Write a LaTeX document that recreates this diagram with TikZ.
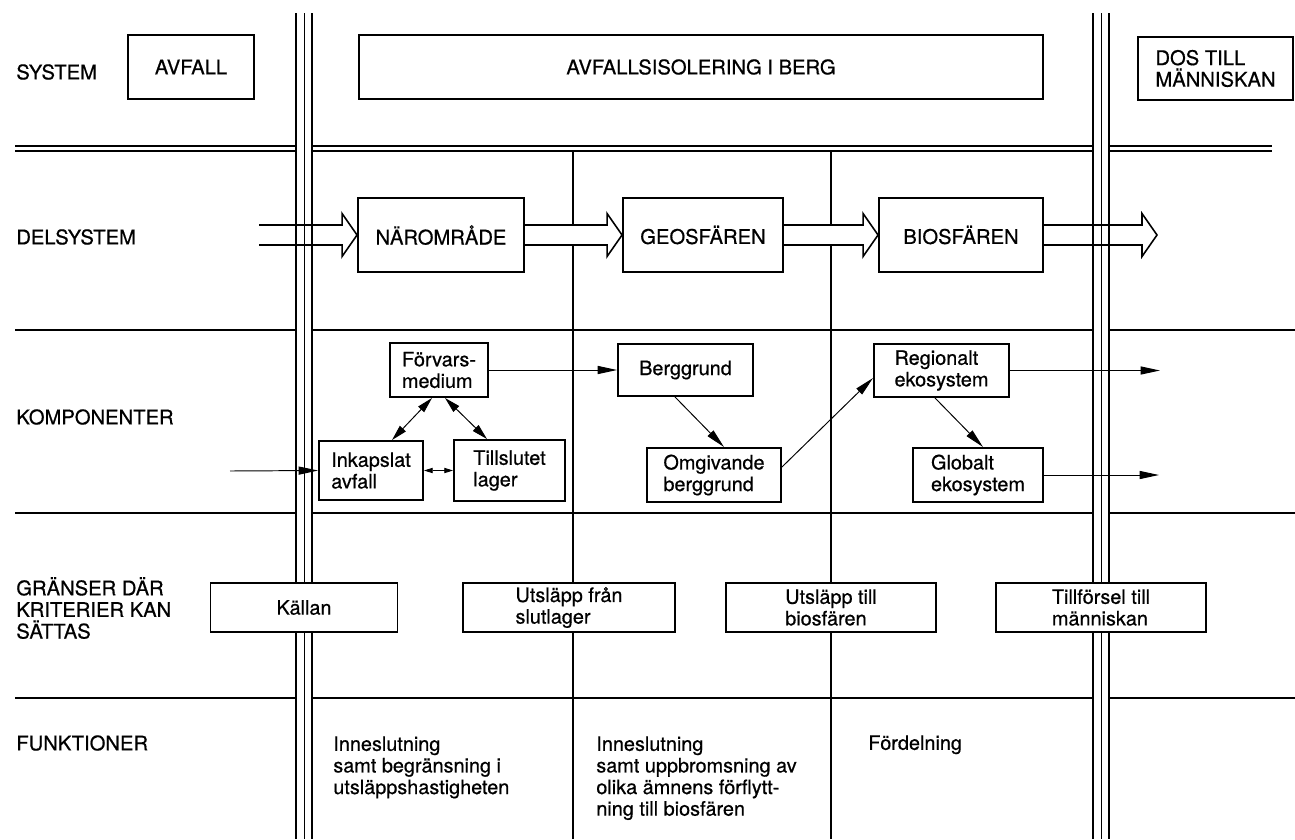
\documentclass[tikz,border=0pt]{standalone}
\usepackage{fontspec}
\setmainfont[FakeBold=0.6]{TeX Gyre Heros}
\usetikzlibrary{arrows.meta, positioning, calc, backgrounds}

\begin{document}
\begin{tikzpicture}[
    x=0.02cm, y=-0.02cm,
    head/.style={anchor=west, inner sep=0pt, align=left,
                 font=\fontsize{11.5}{12.3}\selectfont},
    sysbox/.style={draw, fill=white, line width=1.1pt, inner sep=0pt, align=left,
                   font=\fontsize{11.5}{12.3}\selectfont},
    comp/.style={draw, fill=white, line width=1.1pt, inner sep=0pt, align=left,
                 font=\fontsize{11.3}{12.3}\selectfont},
    txt/.style={anchor=north west, inner sep=0pt, align=left,
                font=\fontsize{11.3}{12.3}\selectfont},
    grid/.style={line width=0.65pt},
    road/.style={line width=0.65pt},
    hollow/.style={fill=white, line width=0.9pt, line join=miter},
    arr/.style={-{Triangle[length=11pt, width=4.6pt]}, line width=0.55pt},
    darr/.style={{Triangle[length=9pt, width=4.6pt]}-{Triangle[length=9pt, width=4.6pt]}, line width=0.55pt},
    sdarr/.style={{Triangle[length=5pt, width=3pt]}-{Triangle[length=5pt, width=3pt]}, line width=0.55pt}
]
\useasboundingbox (0,0) rectangle (1295,839);

% ============================================================
% Row labels
% ============================================================
\node[head] (lsys)  at (16,72)  {SYSTEM};
\node[head] (ldel)  at (16,237) {DELSYSTEM};
\node[head] (lkomp) at (16,417) {KOMPONENTER};
\node[head] (lgr)   at (16,608) {GRÄNSER DÄR\\KRITERIER KAN\\SÄTTAS};
\node[head] (lfun)  at (16,743) {FUNKTIONER};

% ============================================================
% System
% ============================================================
\node[sysbox, minimum width=2.52cm, minimum height=1.28cm] (avf) at (191,67) {AVFALL};
\node[sysbox, minimum width=13.68cm, minimum height=1.28cm] (iso) at (701,67) {AVFALLSISOLERING I BERG};
\node[sysbox, minimum width=3.1cm, minimum height=1.26cm] (dos) at (1215.5,68.5) {DOS TILL\\MÄNNISKAN};

% ============================================================
% Delsystem
% ============================================================
\node[sysbox, minimum width=3.32cm, minimum height=1.48cm] (naer) at (441,235) {NÄROMRÅDE};
\node[sysbox, minimum width=3.2cm,  minimum height=1.48cm] (geo)  at (703,235) {GEOSFÄREN};
\node[sysbox, minimum width=3.28cm, minimum height=1.48cm] (bio)  at (961,235) {BIOSFÄREN};
\coordinate (delin)  at (259,235);
\coordinate (delout) at (1157,235);

% ============================================================
% Komponenter
% ============================================================
\node[comp, minimum width=1.96cm, minimum height=1.08cm] (forv)  at (439,370)    {Förvars-\\medium};
\node[comp, minimum width=2.08cm, minimum height=1.18cm] (inkap) at (371,470.5)  {Inkapslat\\avfall};
\node[comp, minimum width=2.22cm, minimum height=1.22cm] (tills) at (509.5,470.5) {Tillslutet\\lager};
\node[comp, minimum width=2.7cm,  minimum height=1.04cm] (berg)  at (685.5,370)  {Berggrund};
\node[comp, minimum width=2.68cm, minimum height=1.08cm] (omg)   at (714,475)    {Omgivande\\berggrund};
\node[comp, minimum width=2.7cm,  minimum height=1.06cm] (reg)   at (941.5,370.5) {Regionalt\\ekosystem};
\node[comp, minimum width=2.6cm,  minimum height=1.08cm] (glob)  at (978,475)    {Globalt\\ekosystem};
\coordinate (kin) at (230,471);
\coordinate (regout)  at ([xshift=3cm]reg.east);
\coordinate (globout) at ([xshift=2.3cm]glob.east);

% ============================================================
% Gränser där kriterier kan sättas
% ============================================================
\node[comp, minimum width=3.74cm, minimum height=0.98cm] (kall)  at (304,607.5)  {Källan};
\node[comp, minimum width=4.24cm, minimum height=0.98cm] (ufr)   at (569,607.5)  {Utsläpp från\\slutlager};
\node[comp, minimum width=4.2cm,  minimum height=0.98cm] (util)  at (831,607.5)  {Utsläpp till\\biosfären};
\node[comp, minimum width=4.2cm,  minimum height=0.98cm] (tillf) at (1101,607.5) {Tillförsel till\\människan};

% ============================================================
% Funktioner
% ============================================================
\node[txt] (fun1) at (333,736) {Inneslutning\\samt begränsning i\\utsläppshastigheten};
\node[txt] (fun2) at (596,736) {Inneslutning\\samt uppbromsning av\\olika ämnens förflytt-\\ning till biosfären};
\node[txt] (fun3) at (868,735) {Fördelning};

% ============================================================
% Grid, double lines and broad arrows (behind the boxes)
% ============================================================
\begin{scope}[on background layer]
\foreach \gy in {330,513,698} { \draw[grid] (15,\gy) -- (1295,\gy); }
\foreach \gy in {146,151} { \draw[grid] (15,\gy) -- (1272,\gy); }
\foreach \gx in {573,831} { \draw[grid] (\gx,151) -- (\gx,839); }
\foreach \rx in {304,1101} { \fill[white] (\rx-8,13) rectangle (\rx+8,839); }
% broad arrows
\foreach \a/\b in {delin/naer.west, naer.east/geo.west, geo.east/bio.west, bio.east/delout} {
    \draw[hollow] let \p1=(\a), \p2=(\b) in
        (\x1,\y1+0.2cm) -- (\x2-0.3cm,\y1+0.2cm) -- (\x2-0.3cm,\y1+0.43cm) -- (\x2,\y1)
        -- (\x2-0.3cm,\y1-0.43cm) -- (\x2-0.3cm,\y1-0.2cm) -- (\x1,\y1-0.2cm);
}
\foreach \rx in {304,1101} {
    \draw[road] (\rx-8,13) -- (\rx-8,839);
    \draw[road, line width=0.4pt] (\rx,13) -- (\rx,839);
    \draw[road] (\rx+8,13) -- (\rx+8,839);
}
\end{scope}

% arrows between components
\draw[arr] (kin) -- (inkap.west);
\draw[arr] (forv.east) -- (berg.west);
\draw[darr] ([xshift=-0.14cm]forv.south) -- ([xshift=0.42cm]inkap.north);
\draw[darr] ([xshift=0.12cm]forv.south) -- ([xshift=-0.45cm]tills.north);
\draw[sdarr] (inkap.east) -- (tills.west);
\draw[arr] ([xshift=-0.21cm]berg.south) -- ([xshift=0.2cm]omg.north);
\draw[arr] ([yshift=0.16cm]omg.east) -- ([yshift=-0.15cm]reg.west);
\draw[arr] ([xshift=-0.13cm]reg.south) -- ([xshift=0.1cm]glob.north);
\draw[arr] (reg.east) -- (regout);
\draw[arr] (glob.east) -- (globout);

\end{tikzpicture}
\end{document}
